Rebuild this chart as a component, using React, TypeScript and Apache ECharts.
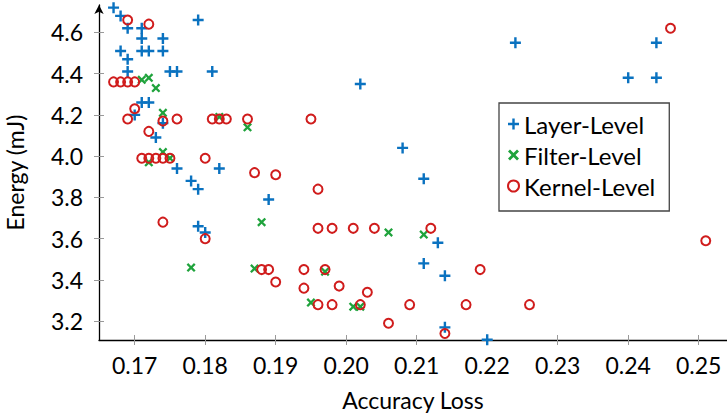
import React, { useEffect, useRef } from "react";
import * as echarts from "echarts";

// Layer-Level (blue +)
const layerLoss = [0.167, 0.168, 0.169, 0.171, 0.179, 0.171, 0.174, 0.168, 0.171, 0.172, 0.174, 0.169, 0.169, 0.175, 0.176, 0.181, 0.171, 0.172, 0.170, 0.174, 0.173, 0.176, 0.178, 0.179, 0.182, 0.179, 0.180, 0.189, 0.202, 0.208, 0.211, 0.213, 0.211, 0.214, 0.214, 0.220, 0.224, 0.244, 0.240, 0.244];
const layerEnergy = [4.72, 4.68, 4.62, 4.62, 4.66, 4.57, 4.57, 4.51, 4.51, 4.51, 4.51, 4.47, 4.41, 4.41, 4.41, 4.41, 4.26, 4.26, 4.20, 4.16, 4.09, 3.94, 3.88, 3.84, 3.94, 3.66, 3.63, 3.79, 4.35, 4.04, 3.89, 3.58, 3.48, 3.42, 3.17, 3.11, 4.55, 4.55, 4.38, 4.38];

// Filter-Level (green x)
const filterLoss = [0.171, 0.172, 0.173, 0.174, 0.182, 0.174, 0.172, 0.175, 0.186, 0.188, 0.178, 0.187, 0.206, 0.211, 0.197, 0.195, 0.201, 0.202];
const filterEnergy = [4.37, 4.38, 4.33, 4.21, 4.19, 4.02, 3.97, 3.99, 4.14, 3.68, 3.46, 3.455, 3.63, 3.62, 3.44, 3.29, 3.27, 3.27];

// Kernel-Level (red o)
const kernelLoss = [0.169, 0.172, 0.167, 0.168, 0.169, 0.170, 0.170, 0.169, 0.174, 0.176, 0.181, 0.182, 0.183, 0.186, 0.195, 0.172, 0.171, 0.172, 0.173, 0.174, 0.175, 0.180, 0.187, 0.190, 0.174, 0.180, 0.196, 0.196, 0.198, 0.201, 0.204, 0.212, 0.188, 0.189, 0.190, 0.194, 0.197, 0.194, 0.199, 0.203, 0.196, 0.198, 0.202, 0.209, 0.217, 0.226, 0.206, 0.214, 0.219, 0.251, 0.246];
const kernelEnergy = [4.66, 4.64, 4.36, 4.36, 4.36, 4.36, 4.23, 4.18, 4.17, 4.18, 4.18, 4.18, 4.18, 4.18, 4.18, 4.12, 3.99, 3.99, 3.99, 3.99, 3.99, 3.99, 3.92, 3.91, 3.68, 3.60, 3.84, 3.65, 3.65, 3.65, 3.65, 3.65, 3.45, 3.45, 3.39, 3.45, 3.45, 3.36, 3.37, 3.34, 3.28, 3.28, 3.28, 3.28, 3.28, 3.28, 3.19, 3.14, 3.45, 3.59, 4.62];

const xTicks = [0.17, 0.18, 0.19, 0.2, 0.21, 0.22, 0.23, 0.24, 0.25];
const yTicks = [3.2, 3.4, 3.6, 3.8, 4.0, 4.2, 4.4, 4.6];

const seriesNames = ["Layer-Level", "Filter-Level", "Kernel-Level"];

const BLUE = "#0a72c0";
const GREEN = "#1fa33c";
const RED = "#d01c1c";
const FONT = "Lato";

const PLUS = "path://M3.9,0H6.1V3.9H10V6.1H6.1V10H3.9V6.1H0V3.9H3.9Z";
const CROSS = "path://M0,1.8L1.8,0L5,3.2L8.2,0L10,1.8L6.8,5L10,8.2L8.2,10L5,6.8L1.8,10L0,8.2L3.2,5Z";

const zip = (a: number[], b: number[]) => a.map((v, i) => [v, b[i]]);

export default function App() {
  const ref = useRef<HTMLDivElement>(null);
  useEffect(() => {
    if (!ref.current) return;
    const chart = echarts.init(ref.current, null, { renderer: "svg" });
    const xMin = 0.164936;
    const xMax = 0.254014;
    const yMin = 3.1086;
    const yMax = 4.7328;
    const baseX = {
      type: "value" as const,
      min: xMin,
      max: xMax,
      position: "bottom" as const,
      splitLine: { show: false },
    };
    const baseY = {
      type: "value" as const,
      min: yMin,
      max: yMax,
      position: "left" as const,
      splitLine: { show: false },
    };
    chart.setOption({
      animation: false,
      textStyle: { fontFamily: FONT },
      grid: { left: 99, right: 0, top: 5, bottom: 75, outerBoundsMode: "none", containLabel: false },
      legend: {
        orient: "vertical",
        left: 499,
        top: 103,
        padding: [9, 14, 13, 8],
        itemGap: 7,
        itemWidth: 11,
        itemHeight: 11,
        borderColor: "#444",
        borderWidth: 1.3,
        backgroundColor: "#fff",
        textStyle: { fontSize: 24, color: "#000", fontFamily: FONT, lineHeight: 24 },
        data: seriesNames,
      },
      xAxis: [
        {
          ...baseX,
          name: "Accuracy Loss",
          nameLocation: "middle",
          nameGap: 48,
          nameTextStyle: { fontSize: 23, color: "#000", fontFamily: FONT },
          axisLine: { show: true, lineStyle: { color: "#000", width: 1.3 } },
          axisTick: { show: true, length: 5, lineStyle: { color: "#999" }, customValues: xTicks },
          axisLabel: {
            show: true,
            margin: 13,
            fontSize: 23,
            color: "#000",
            fontFamily: FONT,
            customValues: xTicks,
            formatter: (v: number) => v.toFixed(2),
          },
        },
        {
          ...baseX,
          axisLine: { show: false },
          axisLabel: { show: false },
          axisTick: { show: true, inside: true, length: 5, lineStyle: { color: "#999" }, customValues: xTicks },
        },
      ],
      yAxis: [
        {
          ...baseY,
          name: "Energy (mJ)",
          nameLocation: "middle",
          nameGap: 73,
          nameRotate: 90,
          nameTextStyle: { fontSize: 23, color: "#000", fontFamily: FONT },
          axisLine: {
            show: true,
            symbol: ["none", "arrow"],
            symbolSize: [7, 9],
            lineStyle: { color: "#000", width: 1.3 },
          },
          axisTick: { show: true, length: 5, lineStyle: { color: "#999" }, customValues: yTicks },
          axisLabel: {
            show: true,
            margin: 16,
            fontSize: 23,
            color: "#000",
            fontFamily: FONT,
            customValues: yTicks,
            formatter: (v: number) => v.toFixed(1),
          },
        },
        {
          ...baseY,
          axisLine: { show: false },
          axisLabel: { show: false },
          axisTick: { show: true, inside: true, length: 5, lineStyle: { color: "#999" }, customValues: yTicks },
        },
      ],
      series: [
        {
          name: seriesNames[0],
          type: "scatter",
          clip: false,
          symbol: PLUS,
          symbolSize: 11,
          itemStyle: { color: BLUE, opacity: 1 },
          data: zip(layerLoss, layerEnergy),
        },
        {
          name: seriesNames[1],
          type: "scatter",
          clip: false,
          symbol: CROSS,
          symbolSize: 9,
          itemStyle: { color: GREEN, opacity: 1 },
          data: zip(filterLoss, filterEnergy),
        },
        {
          name: seriesNames[2],
          type: "scatter",
          clip: false,
          symbol: "circle",
          symbolSize: 9,
          itemStyle: { color: "rgba(0,0,0,0)", borderColor: RED, borderWidth: 2, opacity: 1 },
          data: zip(kernelLoss, kernelEnergy),
        },
      ],
    });
    return () => chart.dispose();
  }, []);
  return (
    <div
      ref={ref}
      style={{ position: "fixed", left: 0, top: 0, width: 727, height: 415, background: "#fff" }}
    />
  );
}
